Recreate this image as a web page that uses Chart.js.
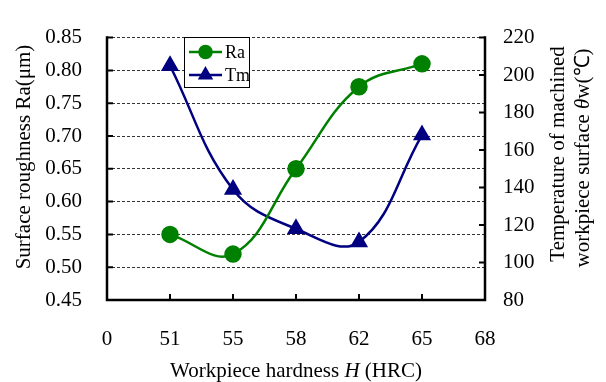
<!DOCTYPE html>
<html><head><meta charset="utf-8">
<script src="https://cdn.jsdelivr.net/npm/chart.js@4/dist/chart.umd.min.js"></script>
<style>html,body{margin:0;padding:0;background:#fff}#wrap{width:606px;height:382px;position:relative}</style>
</head><body><div id="wrap"><canvas id="c"></canvas></div>
<script>
const hardness = ['0','51','55','58','62','65','68'];
const raValues = [null, 0.55, 0.52, 0.65, 0.775, 0.81, null];
const tmValues = [null, 205, 139, 118, 111, 168, null];
const raAxis = {min: 0.45, max: 0.85, step: 0.05};
const tmAxis = {min: 80, max: 220, step: 20};
const seriesNames = ['Ra', 'Tm'];

const FONT = '"Liberation Serif", "Times New Roman", serif';
const GREEN = '#008000', NAVY = '#000080';
const TS = 21;

function drawRuns(ctx, runs, size, cx, cy) {
  let total = 0;
  const widths = runs.map(r => { ctx.font = (r.italic ? 'italic ' : '') + size + 'px ' + FONT; const w = ctx.measureText(r.t).width; total += w; return w; });
  let x = cx - total / 2;
  ctx.textBaseline = 'middle'; ctx.textAlign = 'left'; ctx.fillStyle = '#000';
  runs.forEach((r, i) => { ctx.font = (r.italic ? 'italic ' : '') + size + 'px ' + FONT; ctx.fillText(r.t, x, cy); x += widths[i]; });
}

const decor = {
  id: 'decor',
  beforeDatasetsDraw(chart) {
    const {ctx, chartArea: a, scales} = chart;
    ctx.save();
    ctx.strokeStyle = '#000'; ctx.lineWidth = 2.5; ctx.lineCap = 'square';
    ctx.beginPath();
    ctx.moveTo(a.left, a.top); ctx.lineTo(a.left, a.bottom); ctx.lineTo(a.right, a.bottom); ctx.lineTo(a.right, a.top);
    ctx.stroke();
    ctx.lineWidth = 2; ctx.lineCap = 'butt';
    ctx.beginPath();
    scales.y.ticks.forEach(t => { const y = scales.y.getPixelForValue(t.value); ctx.moveTo(a.left, y); ctx.lineTo(a.left + 6, y); });
    scales.y1.ticks.forEach(t => { const y = scales.y1.getPixelForValue(t.value); ctx.moveTo(a.right, y); ctx.lineTo(a.right - 6, y); });
    scales.x.ticks.forEach((t, i) => { const x = scales.x.getPixelForValue(i); ctx.moveTo(x, a.bottom); ctx.lineTo(x, a.bottom - 6); });
    ctx.stroke();
    ctx.restore();
  },
  afterDraw(chart) {
    const {ctx, chartArea: a} = chart;
    ctx.save();
    drawRuns(ctx, [{t: 'Workpiece hardness '}, {t: 'H', italic: true}, {t: ' (HRC)'}], TS, (a.left + a.right) / 2, 371);
    ctx.save(); ctx.translate(24, 157); ctx.rotate(-Math.PI / 2);
    drawRuns(ctx, [{t: 'Surface roughness Ra(μm)'}], TS, 0, 0);
    ctx.restore();
    ctx.save(); ctx.translate(558, 154); ctx.rotate(-Math.PI / 2);
    drawRuns(ctx, [{t: 'Temperature of machined'}], TS, 0, 0);
    ctx.restore();
    ctx.save(); ctx.translate(583, 158); ctx.rotate(-Math.PI / 2);
    drawRuns(ctx, [{t: 'workpiece surface '}, {t: 'θ', italic: true}, {t: 'w(℃)'}], TS, 0, 0);
    ctx.restore();
    // legend
    const bx = 184, by = 37, bw = 65, bh = 50;
    ctx.fillStyle = '#fff'; ctx.fillRect(bx, by, bw, bh);
    ctx.strokeStyle = '#000'; ctx.lineWidth = 1; ctx.strokeRect(bx + 0.5, by + 0.5, bw, bh);
    chart.data.datasets.forEach((ds, i) => {
      const y = by + 15 + i * 23;
      ctx.strokeStyle = ds.borderColor; ctx.lineWidth = 2.5;
      ctx.beginPath(); ctx.moveTo(189, y); ctx.lineTo(222, y); ctx.stroke();
      Chart.helpers.drawPoint(ctx, {pointStyle: ds.pointStyle, radius: ds.pointRadius * 0.8, borderWidth: 1, rotation: 0}, 205.5, y);
      ctx.fillStyle = ds.borderColor; ctx.fill();
      ctx.fillStyle = '#000'; ctx.font = '18px ' + FONT; ctx.textAlign = 'left'; ctx.textBaseline = 'middle';
      ctx.fillText(ds.label, 225, y + 1);
    });
    ctx.restore();
  }
};

new Chart(document.getElementById('c'), {
  type: 'line',
  data: {
    labels: hardness,
    datasets: [
      {label: seriesNames[0], data: raValues, yAxisID: 'y', borderColor: GREEN, backgroundColor: GREEN, pointBackgroundColor: GREEN, pointBorderColor: GREEN, pointStyle: 'circle', pointRadius: 7.5, borderWidth: 2.5, tension: 0.4},
      {label: seriesNames[1], data: tmValues, yAxisID: 'y1', borderColor: NAVY, backgroundColor: NAVY, pointBackgroundColor: NAVY, pointBorderColor: NAVY, pointStyle: 'triangle', pointRadius: 8, borderWidth: 2.5, tension: 0.4}
    ]
  },
  options: {
    responsive: true, maintainAspectRatio: false, animation: false,
    layout: {padding: {top: 20, left: 0, right: 0, bottom: 0}},
    plugins: {legend: {display: false}, tooltip: {enabled: false}},
    scales: {
      x: {
        type: 'category', offset: false,
        grid: {display: false, drawTicks: false}, border: {display: false},
        ticks: {autoSkip: false, maxRotation: 0, padding: 27, color: '#000', font: {family: FONT, size: TS}},
        afterFit(s) { s.height = 82; }
      },
      y: {
        position: 'left', min: raAxis.min, max: raAxis.max,
        grid: {display: true, color: '#333', lineWidth: 1, drawTicks: false}, border: {display: false, dash: [3, 2]},
        ticks: {stepSize: raAxis.step, padding: 25, color: '#000', font: {family: FONT, size: TS}, callback: v => v.toFixed(2)},
        afterFit(s) { s.width = 107; }
      },
      y1: {
        position: 'right', min: tmAxis.min, max: tmAxis.max,
        grid: {display: false, drawTicks: false}, border: {display: false},
        ticks: {stepSize: tmAxis.step, padding: 18, color: '#000', font: {family: FONT, size: TS}},
        afterFit(s) { s.width = 121; }
      }
    }
  },
  plugins: [decor]
});
</script>
</body></html>
